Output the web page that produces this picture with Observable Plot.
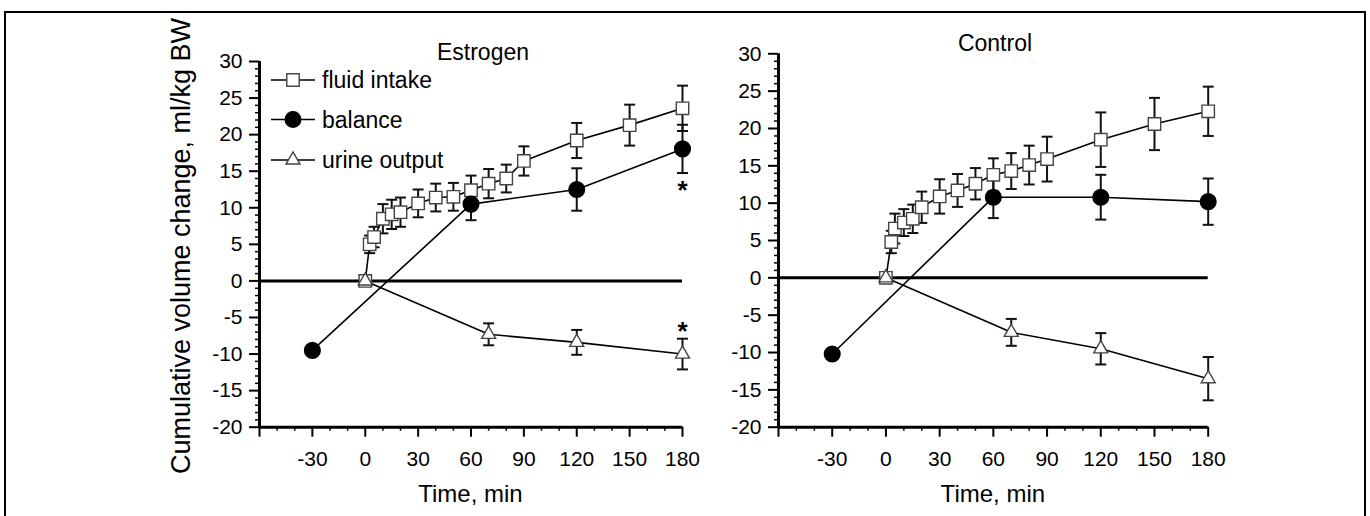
<!DOCTYPE html>
<html><head><meta charset="utf-8">
<script src="https://cdn.jsdelivr.net/npm/d3@7"></script>
<script src="https://cdn.jsdelivr.net/npm/@observablehq/plot@0.6"></script>
<style>
body{margin:0;background:#fff;}
#wrap{position:relative;width:1370px;height:516px;overflow:hidden;font-family:"Liberation Sans",Arial,sans-serif;background:#fff;}
#frame{position:absolute;left:4px;top:11px;width:1362px;height:530px;border:2px solid #000;box-sizing:border-box;}
.panel{position:absolute;top:0;}
</style></head><body>
<div id="wrap"><div id="frame"></div><div id="left" class="panel" style="left:0px"></div><div id="right" class="panel" style="left:700px"></div></div>
<script>
// ---- data ----
const seriesNames = ["fluid intake", "balance", "urine output"];
const panelTitles = ["Estrogen", "Control"];
const xTitle = "Time, min";
const yTitle = "Cumulative volume change, ml/kg BW";

const timeFluidE = [0, 2.5, 5, 10, 15, 20, 30, 40, 50, 60, 70, 80, 90, 120, 150, 180];
const fluidE     = [0, 5.0, 6.0, 8.5, 9.1, 9.4, 10.6, 11.4, 11.5, 12.4, 13.3, 14.0, 16.4, 19.2, 21.3, 23.6];
const fluidErrE  = [0, 1.2, 1.4, 2.0, 2.0, 2.0, 1.9, 1.9, 1.9, 2.0, 2.0, 1.9, 2.0, 2.4, 2.8, 3.1];

const timeFluidC = [0, 3, 5, 10, 15, 20, 30, 40, 50, 60, 70, 80, 90, 120, 150, 180];
const fluidC     = [0, 4.8, 6.6, 7.4, 7.9, 9.45, 10.9, 11.7, 12.6, 13.8, 14.3, 15.1, 15.9, 18.5, 20.6, 22.3];
const fluidErrC  = [0, 1.5, 2.0, 1.8, 1.9, 2.1, 2.3, 2.2, 2.1, 2.2, 2.4, 2.6, 3.0, 3.65, 3.5, 3.3];

const timeBalance = [-30, 60, 120, 180];
const balanceE    = [-9.5, 10.5, 12.5, 18.05];
const balanceErrE = [0, 2.2, 2.9, 3.3];
const balanceC    = [-10.2, 10.8, 10.8, 10.2];
const balanceErrC = [0, 2.8, 3.0, 3.1];

const timeUrine = [0, 70, 120, 180];
const urineE    = [0, -7.3, -8.4, -10.0];
const urineErrE = [0, 1.5, 1.7, 2.1];
const urineC    = [0, -7.3, -9.5, -13.5];
const urineErrC = [0, 1.8, 2.1, 2.9];

const starTimeE = [180, 180];
const starValE  = [13.3, -6.0];

const xTicks = [-60, -30, 0, 30, 60, 90, 120, 150, 180];
const xMinor = [-50, -40, -20, -10, 10, 20, 40, 50, 70, 80, 100, 110, 130, 140, 160, 170];
const yTicks = [-20, -15, -10, -5, 0, 5, 10, 15, 20, 25, 30];
const yMinor = [-19,-18,-17,-16,-14,-13,-12,-11,-9,-8,-7,-6,-4,-3,-2,-1,1,2,3,4,6,7,8,9,11,12,13,14,16,17,18,19,21,22,23,24,26,27,28,29];

// ---- drawing ----
const FONT = '"Liberation Sans", Arial, sans-serif';
const capSym = {draw(ctx) { ctx.moveTo(-5.5, 0); ctx.lineTo(5.5, 0); }};
const R_SQ = 7, R_CI = 7.8, R_TR = 5.2;

function panel(cfg) {
  const fluid = cfg.tFluid.map((t, i) => ({t, v: cfg.fluid[i], e: cfg.fluidErr[i]}));
  const bal = timeBalance.map((t, i) => ({t, v: cfg.bal[i], e: cfg.balErr[i]}));
  const uri = timeUrine.map((t, i) => ({t, v: cfg.uri[i], e: cfg.uriErr[i]}));
  const errs = [...fluid, ...bal, ...uri].filter(d => d.e > 0);
  const stars = cfg.starT.map((t, i) => ({t, v: cfg.starV[i]}));
  const svg = Plot.plot({
    width: cfg.width, height: 516,
    marginLeft: cfg.ml, marginRight: cfg.mr, marginTop: cfg.mt, marginBottom: cfg.mb,
    x: {domain: [-60, 180]},
    y: {domain: [-20, 30]},
    style: {fontFamily: FONT, fontSize: "21px", color: "#000", background: "transparent", overflow: "visible"},
    marks: [
      Plot.axisX({ticks: xMinor, tickSize: 4, tickFormat: () => "", label: null, strokeWidth: 1.5}),
      Plot.axisX({ticks: xTicks, tickSize: 10, tickPadding: 14, tickFormat: d => d === -60 ? "" : String(d), label: null, strokeWidth: 2}),
      Plot.axisY({ticks: yMinor, tickSize: 4, tickFormat: () => "", label: null, strokeWidth: 1.5}),
      Plot.axisY({ticks: yTicks, tickSize: 10, tickPadding: 7, tickFormat: d => String(d), label: null, strokeWidth: 2}),
      Plot.ruleX([-60], {strokeWidth: 3}),
      Plot.ruleY([-20], {strokeWidth: 3}),
      Plot.ruleY([0], {strokeWidth: 3}),
      Plot.ruleX(errs, {x: "t", y1: d => d.v - d.e, y2: d => d.v + d.e, stroke: "#111", strokeWidth: 2}),
      Plot.dot(errs, {x: "t", y: d => d.v + d.e, symbol: capSym, r: 5, fill: "none", stroke: "#111", strokeWidth: 2}),
      Plot.dot(errs, {x: "t", y: d => d.v - d.e, symbol: capSym, r: 5, fill: "none", stroke: "#111", strokeWidth: 2}),
      Plot.line(fluid, {x: "t", y: "v", stroke: "#000", strokeWidth: 1.6}),
      Plot.line(bal, {x: "t", y: "v", stroke: "#000", strokeWidth: 1.6}),
      Plot.line(uri, {x: "t", y: "v", stroke: "#000", strokeWidth: 1.6}),
      Plot.dot(fluid, {x: "t", y: "v", symbol: "square", r: R_SQ, fill: "white", stroke: "#444", strokeWidth: 1.4}),
      Plot.dot(bal, {x: "t", y: "v", symbol: "circle", r: R_CI, fill: "#000", stroke: "#000"}),
      Plot.dot(uri, {x: "t", y: "v", symbol: "triangle", r: R_TR, fill: "white", stroke: "#444", strokeWidth: 1.4}),
      Plot.text(stars, {x: "t", y: "v", text: () => "*", fontSize: 26, fontWeight: "bold", dy: 7})
    ]
  });
  const s = d3.select(svg);
  s.append("text").attr("x", cfg.titleX).attr("y", cfg.titleY).attr("text-anchor", "middle")
    .attr("font-size", 23).attr("font-family", FONT).attr("fill", "#000").text(cfg.title);
  s.append("text").attr("x", cfg.ml + (cfg.width - cfg.ml - cfg.mr) / 2).attr("y", 502).attr("text-anchor", "middle")
    .attr("font-size", 24).attr("font-family", FONT).attr("fill", "#000").text(xTitle);
  if (cfg.legend) {
    s.append("text").attr("transform", "translate(190,246) rotate(-90)").attr("text-anchor", "middle")
      .attr("font-size", 27).attr("font-family", FONT).attr("fill", "#000").text(yTitle);
    const rows = [80, 119.5, 160];
    const syms = [d3.symbolSquare, d3.symbolCircle, d3.symbolTriangle];
    const rs = [R_SQ, R_CI, R_TR];
    seriesNames.forEach((name, i) => {
      const g = s.append("g").attr("transform", `translate(0,${rows[i]})`);
      g.append("line").attr("x1", 271).attr("x2", 315).attr("y1", 0).attr("y2", 0).attr("stroke", "#000").attr("stroke-width", 1.6);
      g.append("path").attr("transform", "translate(293,0)")
        .attr("d", d3.symbol(syms[i], rs[i] * rs[i] * Math.PI)())
        .attr("fill", i === 1 ? "#000" : "#fff").attr("stroke", i === 1 ? "#000" : "#444").attr("stroke-width", 1.4);
      g.append("text").attr("x", 322).attr("y", 0).attr("dy", "0.35em").attr("font-size", 23)
        .attr("text-anchor", "start")
        .attr("font-family", FONT).attr("fill", "#000").text(name);
    });
  }
  return svg;
}

document.getElementById("left").appendChild(panel({
  width: 700, ml: 259, mr: 18, mt: 61, mb: 89.3,
  tFluid: timeFluidE, fluid: fluidE, fluidErr: fluidErrE,
  bal: balanceE, balErr: balanceErrE, uri: urineE, uriErr: urineErrE,
  starT: starTimeE, starV: starValE,
  title: panelTitles[0], titleX: 483, titleY: 59.5, legend: true
}));
document.getElementById("right").appendChild(panel({
  width: 670, ml: 78, mr: 162.3, mt: 53.3, mb: 89.3,
  tFluid: timeFluidC, fluid: fluidC, fluidErr: fluidErrC,
  bal: balanceC, balErr: balanceErrC, uri: urineC, uriErr: urineErrC,
  starT: [], starV: [],
  title: panelTitles[1], titleX: 295, titleY: 51, legend: false
}));
</script>
</body></html>
